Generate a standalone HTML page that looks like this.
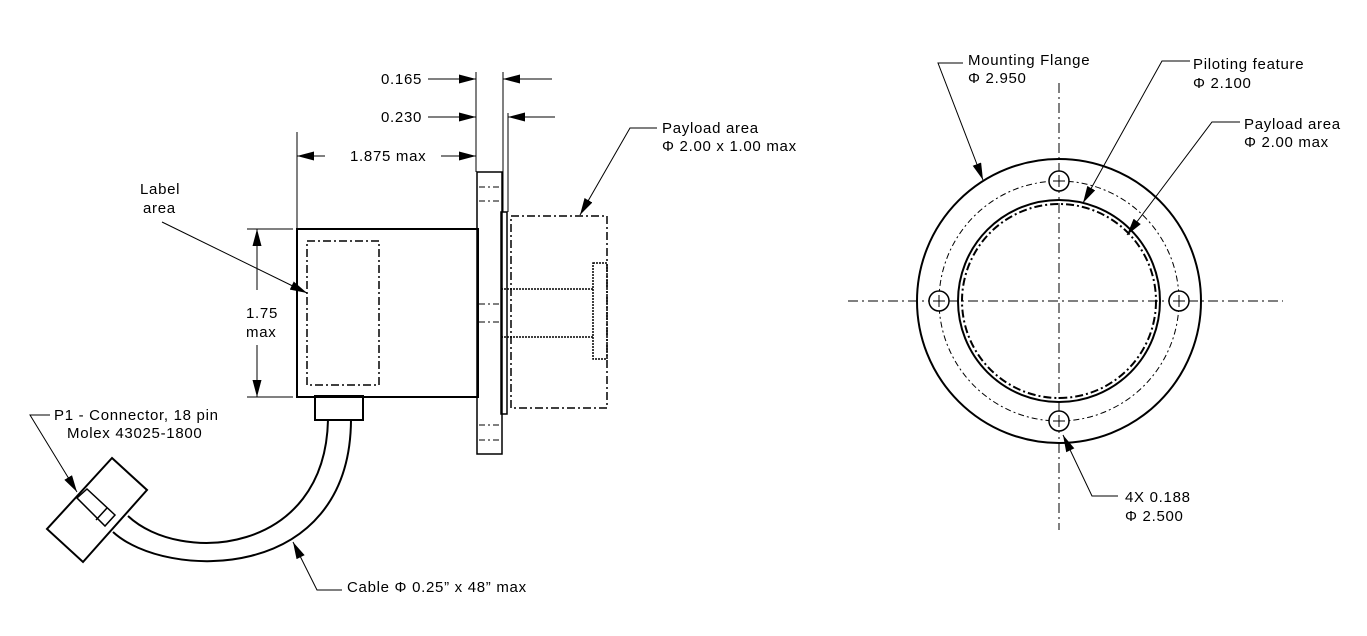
<!DOCTYPE html>
<html><head><meta charset="utf-8"><style>
html,body{margin:0;padding:0;background:#fff;}
svg{display:block;}
text{font-family:"Liberation Sans",Arial,sans-serif;font-size:15px;letter-spacing:0.7px;fill:#000;}
</style></head><body>
<svg width="1367" height="636" viewBox="0 0 1367 636" xmlns="http://www.w3.org/2000/svg">
<defs>
<marker id="a" viewBox="0 0 17 9" refX="17" refY="4.5" markerWidth="17" markerHeight="9" markerUnits="userSpaceOnUse" orient="auto"><path d="M0,0 L17,4.5 L0,9 z" fill="#000"/></marker>
</defs>
<g fill="none" stroke="#000">
<rect x="297" y="229" width="181" height="168" stroke-width="2"/>
<rect x="307" y="241" width="72" height="144" stroke-width="1.5" stroke-dasharray="8,3,2,3"/>
<rect x="477" y="172" width="25" height="282" stroke-width="1.5"/>
<g stroke-width="1" stroke-dasharray="6,3,2,3">
<line x1="479" y1="187" x2="501" y2="187"/><line x1="479" y1="201" x2="501" y2="201"/>
<line x1="479" y1="304" x2="501" y2="304"/><line x1="479" y1="322" x2="501" y2="322"/>
<line x1="479" y1="425" x2="501" y2="425"/><line x1="479" y1="440" x2="501" y2="440"/>
</g>
<rect x="501" y="212" width="6" height="202" stroke-width="1.5"/>
<rect x="511" y="216" width="96" height="192" stroke-width="1.5" stroke-dasharray="8,3,2,3"/>
<g stroke-width="1.5" stroke-dasharray="2,1">
<line x1="501" y1="289" x2="593" y2="289"/><line x1="501" y1="337" x2="593" y2="337"/>
<rect x="593" y="263" width="14" height="96"/>
</g>
<rect x="315" y="396" width="48" height="24" stroke-width="2"/>
<path d="M328,420 C325,555 180,565 128,516" stroke-width="2"/>
<path d="M351,420 C350,585 165,580 113,532" stroke-width="2"/>
<path d="M112,458 L147,490 L83,562 L47,529 Z" stroke-width="2" fill="#fff"/>
<path d="M87,489 L115,515 L105,526 L77,498 Z" stroke-width="1.5"/>
<line x1="96" y1="520" x2="107" y2="508" stroke-width="1.5"/>
<g stroke-width="1">
<line x1="297" y1="132" x2="297" y2="229"/>
<line x1="476" y1="72" x2="476" y2="172"/>
<line x1="503" y1="72" x2="503" y2="212"/>
<line x1="508" y1="113" x2="508" y2="212"/>
<line x1="247" y1="229" x2="293" y2="229"/>
<line x1="247" y1="397" x2="293" y2="397"/>
<line x1="428" y1="79" x2="476" y2="79" marker-end="url(#a)"/>
<line x1="552" y1="79" x2="503" y2="79" marker-end="url(#a)"/>
<line x1="428" y1="117" x2="476" y2="117" marker-end="url(#a)"/>
<line x1="555" y1="117" x2="508" y2="117" marker-end="url(#a)"/>
<line x1="325" y1="156" x2="297" y2="156" marker-end="url(#a)"/>
<line x1="441" y1="156" x2="476" y2="156" marker-end="url(#a)"/>
<line x1="257" y1="290" x2="257" y2="229" marker-end="url(#a)"/>
<line x1="257" y1="345" x2="257" y2="397" marker-end="url(#a)"/>
<line x1="162" y1="222" x2="307" y2="293" marker-end="url(#a)"/>
<path d="M657,128 L630,128 L580,215" marker-end="url(#a)"/>
<path d="M50,415 L30,415 L77,492" marker-end="url(#a)"/>
<path d="M342,590 L317,590 L293,542" marker-end="url(#a)"/>
</g>
<circle cx="1059" cy="301" r="142" stroke-width="2"/>
<circle cx="1059" cy="301" r="120" stroke-width="1" stroke-dasharray="6,3,2,3"/>
<circle cx="1059" cy="301" r="101" stroke-width="2"/>
<circle cx="1059" cy="301" r="97" stroke-width="2" stroke-dasharray="8,3,2,3"/>
<g stroke-width="1" stroke-dasharray="10,4,2,4">
<line x1="1059" y1="83" x2="1059" y2="530"/>
<line x1="848" y1="301" x2="1283" y2="301"/>
</g>
<g stroke-width="1.5" fill="#fff">
<circle cx="1059" cy="181" r="10"/><circle cx="939" cy="301" r="10"/>
<circle cx="1179" cy="301" r="10"/><circle cx="1059" cy="421" r="10"/>
</g>
<g stroke-width="1">
<line x1="1059" y1="175" x2="1059" y2="187"/><line x1="1053" y1="181" x2="1065" y2="181"/>
<line x1="939" y1="295" x2="939" y2="307"/><line x1="933" y1="301" x2="945" y2="301"/>
<line x1="1179" y1="295" x2="1179" y2="307"/><line x1="1173" y1="301" x2="1185" y2="301"/>
<line x1="1059" y1="415" x2="1059" y2="427"/><line x1="1053" y1="421" x2="1065" y2="421"/>
<path d="M963,63 L938,63 L983,180" marker-end="url(#a)"/>
<path d="M1190,61 L1162,61 L1083,203" marker-end="url(#a)"/>
<path d="M1240,122 L1212,122 L1127,235" marker-end="url(#a)"/>
<path d="M1118,496 L1092,496 L1063,435" marker-end="url(#a)"/>
</g>
</g>
<text x="381" y="84">0.165</text>
<text x="381" y="122">0.230</text>
<text x="350" y="161">1.875 max</text>
<text x="140" y="194">Label</text>
<text x="143" y="213">area</text>
<text x="246" y="318">1.75</text>
<text x="246" y="337">max</text>
<text x="662" y="133">Payload area</text>
<text x="662" y="151">Φ 2.00 x 1.00 max</text>
<text x="54" y="420">P1 - Connector, 18 pin</text>
<text x="67" y="438">Molex 43025-1800</text>
<text x="347" y="592">Cable Φ 0.25” x 48” max</text>
<text x="968" y="65">Mounting Flange</text>
<text x="968" y="83">Φ 2.950</text>
<text x="1193" y="69">Piloting feature</text>
<text x="1193" y="88">Φ 2.100</text>
<text x="1244" y="129">Payload area</text>
<text x="1244" y="147">Φ 2.00 max</text>
<text x="1125" y="502">4X 0.188</text>
<text x="1125" y="521">Φ 2.500</text>
</svg>
</body></html>
